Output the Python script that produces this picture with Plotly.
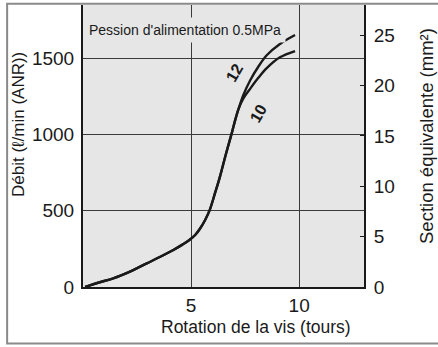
import plotly.graph_objects as go

# Flow vs. screw rotation, supply pressure 0.5 MPa
rot_common = [0.1, 0.7, 1.4, 2.2, 2.95, 3.6, 4.18, 4.6, 4.92, 5.2, 5.41, 5.65, 5.87,
              6.1, 6.34, 6.6, 6.88, 7.05, 7.2]
flow_common = [0, 28, 57, 103, 155, 200, 243, 278, 308, 343, 382, 440, 508,
               612, 726, 866, 1008, 1100, 1170]

rot_12 = [7.42, 7.73, 8.11, 8.5, 9.11, 9.81]
flow_12 = [1260, 1355, 1445, 1520, 1594, 1653]

rot_10 = [7.42, 7.73, 8.11, 8.5, 9.11, 9.81]
flow_10 = [1238, 1300, 1372, 1436, 1507, 1548]

x_ticks = [5, 10]
flow_ticks = [0, 500, 1000, 1500]
section_ticks = [0, 5, 10, 15, 20, 25]

FONT = "Liberation Sans, Arial, sans-serif"
PLOT_BG = "#e6e6e6"
INK = "#1a1a1a"

fig = go.Figure()
for xs, ys in ((rot_common + rot_12, flow_common + flow_12),
               (rot_common + rot_10, flow_common + flow_10)):
    fig.add_trace(go.Scatter(
        x=xs, y=ys, mode="lines",
        line=dict(color=INK, width=2.4, shape="spline", smoothing=1.0),
        showlegend=False, hoverinfo="skip",
    ))

# invisible trace to attach the right-hand axis
fig.add_trace(go.Scatter(x=[0], y=[0], yaxis="y2", mode="markers",
                         marker=dict(opacity=0), showlegend=False, hoverinfo="skip"))

fig.update_layout(
    width=438, height=347,
    margin=dict(l=83, r=74, t=5, b=60),
    paper_bgcolor="white",
    plot_bgcolor=PLOT_BG,
    font=dict(family=FONT, color=INK, size=19),
    xaxis=dict(
        range=[0, 13], tickvals=x_ticks, ticks="", ticklen=0,
        showgrid=True, gridcolor="#3a3a3a", gridwidth=1.3,
        showline=True, linecolor=INK, linewidth=2,
        zeroline=False, tickfont=dict(size=19), ticklabelstandoff=0,
    ),
    yaxis=dict(
        range=[0, 1850], tickvals=flow_ticks, ticks="",
        showgrid=True, gridcolor="#3a3a3a", gridwidth=1.3,
        showline=True, linecolor=INK, linewidth=2,
        zeroline=False, tickfont=dict(size=19), ticklabelstandoff=3,
    ),
    yaxis2=dict(
        overlaying="y", side="right", range=[0, 28],
        tickvals=section_ticks, ticks="inside", ticklen=4, tickwidth=1.2,
        tickcolor=INK, showgrid=False, zeroline=False,
        showline=True, linecolor=INK, linewidth=2,
        tickfont=dict(size=19), ticklabelstandoff=4,
    ),
    shapes=[dict(type="rect", xref="paper", yref="paper",
                 x0=-0.27, x1=1.33, y0=-0.2, y1=1.004,
                 line=dict(color="#8a8a8a", width=2))],
)

W = 281.0
H = 282.0
def px_x(px):
    return (px - 83) / W
def px_y(py):
    return (287 - py) / H

annotations = [
    dict(text="Pession d'alimentation 0.5MPa", xref="paper", yref="paper",
         x=px_x(84), y=px_y(30), xanchor="left", yanchor="middle",
         showarrow=False, font=dict(size=14), bgcolor=PLOT_BG, borderpad=4),
    dict(text="<b>12</b>", x=7.03, y=1404, showarrow=False,
         font=dict(size=16), textangle=-60),
    dict(text="<b>10</b>", x=8.10, y=1141, showarrow=False,
         font=dict(size=16), textangle=-60),
    dict(text="Rotation de la vis (tours)", xref="paper", yref="paper",
         x=px_x(256), y=px_y(327), xanchor="center", yanchor="middle",
         showarrow=False, font=dict(size=17.5)),
    dict(text="Débit (ℓ/min (ANR))", xref="paper", yref="paper",
         x=px_x(19), y=px_y(125), xanchor="center", yanchor="middle",
         showarrow=False, font=dict(size=17), textangle=-90),
    dict(text="Section équivalente (mm²)", xref="paper", yref="paper",
         x=px_x(427), y=px_y(136), xanchor="center", yanchor="middle",
         showarrow=False, font=dict(size=18.5), textangle=-90),
]
fig.update_layout(annotations=annotations)

fig.write_html("out.html")
